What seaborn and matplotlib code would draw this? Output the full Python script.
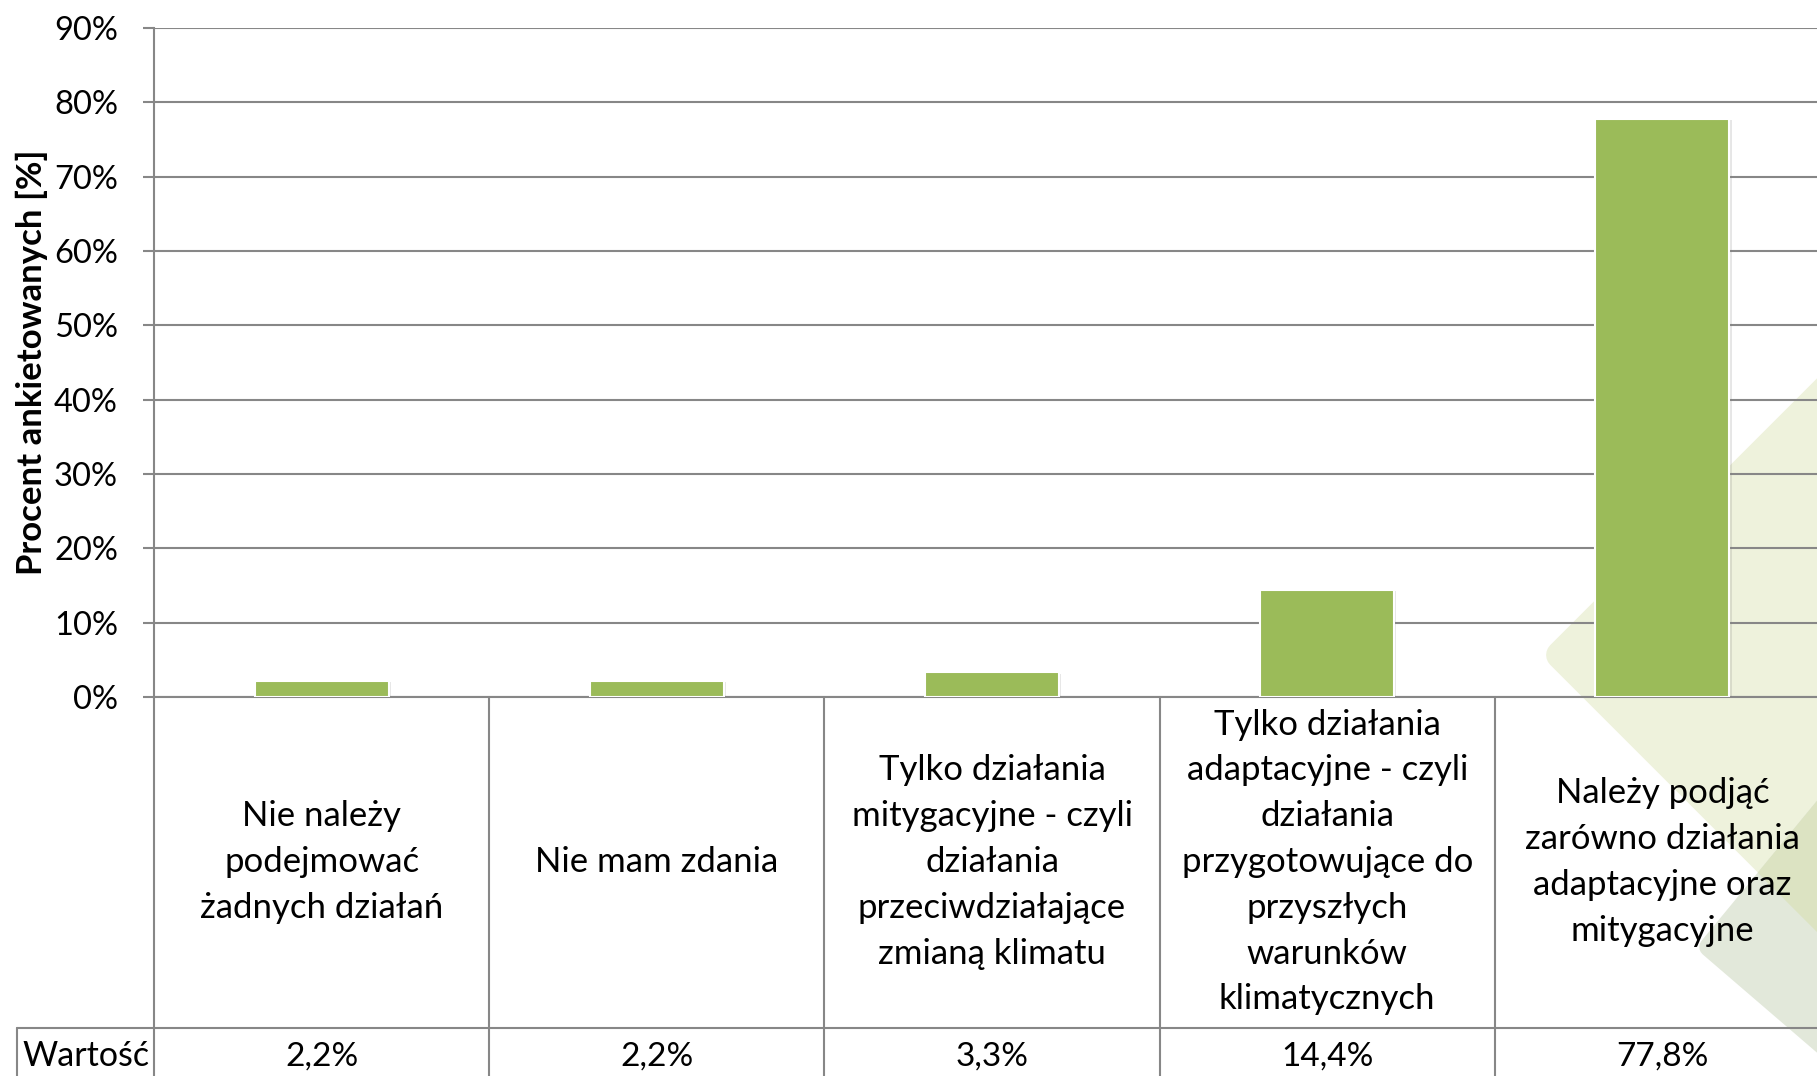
import matplotlib
matplotlib.use("Agg")
import matplotlib.pyplot as plt
import matplotlib.transforms as mtransforms
from matplotlib.patches import Polygon
import matplotlib.patheffects as pe
import seaborn as sns
import pandas as pd

# ---------------- data ----------------
categories = [
    "Nie należy\npodejmować\nżadnych działań",
    "Nie mam zdania",
    "Tylko działania\nmitygacyjne - czyli\ndziałania\nprzeciwdziałające\nzmianą klimatu",
    "Tylko działania\nadaptacyjne - czyli\ndziałania\nprzygotowujące do\nprzyszłych\nwarunków\nklimatycznych",
    "Należy podjąć\nzarówno działania\nadaptacyjne oraz\nmitygacyjne",
]
values = [2.2, 2.2, 3.3, 14.4, 77.8]
value_labels = ["2,2%", "2,2%", "3,3%", "14,4%", "77,8%"]
y_ticks = [0, 10, 20, 30, 40, 50, 60, 70, 80, 90]
y_tick_labels = ["0%", "10%", "20%", "30%", "40%", "50%", "60%", "70%", "80%", "90%"]
row_header = "Wartość"
y_label = "Procent ankietowanych [%]"

# ---------------- style ----------------
sns.set_theme(style="white")
plt.rcParams['font.family'] = ['Lato', 'DejaVu Sans']

W, H = 1817, 1076
GRID = "#878787"
BAR = "#9BBB59"

fig = plt.figure(figsize=(W / 100, H / 100), dpi=100)
fig.patch.set_facecolor("white")


def fx(x):
    return x / W


def fy(y):
    return 1 - y / H


def pts(seq):
    return [(fx(x), fy(y)) for x, y in seq]


# decorative background shapes (figure coordinates), drawn beneath the axes
cream = Polygon(pts([(1560, 655), (1930, 285), (1930, 1025)]), closed=True,
                transform=fig.transFigure, facecolor="#EEF2DC", edgecolor="#EEF2DC",
                lw=20, joinstyle="round", zorder=-3)
grey_tri = [(1709, 947), (1930, 679), (1930, 1137)]
grey = Polygon(pts(grey_tri), closed=True, transform=fig.transFigure,
               facecolor="#E2E8DA", edgecolor="#E2E8DA", lw=14, joinstyle="round",
               zorder=-2)
olive = Polygon(pts(grey_tri), closed=True, transform=fig.transFigure,
                facecolor="#DCE3C2", edgecolor="#DCE3C2", lw=14, joinstyle="round",
                zorder=-1)
clip = Polygon(pts([(1500, 615), (1930, 1045), (1930, 0), (1500, 0)]), closed=True,
               transform=fig.transFigure)
for p in (cream, grey, olive):
    fig.add_artist(p)
olive.set_clip_path(clip)

# ---------------- axes ----------------
ax = fig.add_axes([fx(154), fy(697), 1676 / W, (697 - 28) / H])
ax.set_zorder(1)
ax.patch.set_alpha(0)

df = pd.DataFrame({"cat": categories, "val": values})
sns.barplot(data=df, x="cat", y="val", color=BAR, saturation=1, width=0.4,
            edgecolor="white", linewidth=1.5, ax=ax, zorder=3)
for bar in ax.patches:
    bar.set_path_effects([pe.SimplePatchShadow(offset=(1.5, -1.0), alpha=0.18,
                                                shadow_rgbFace="#777777"),
                          pe.Normal()])

ax.set_xlim(-0.5, len(categories) - 0.5)
ax.set_ylim(0, 90)
ax.set_yticks(y_ticks)
ax.set_yticklabels(y_tick_labels)
ax.set_xticks([])
ax.set_xlabel("")
ax.set_ylabel("")
ax.set_axisbelow(True)
ax.yaxis.grid(True, color=GRID, lw=1.5)
ax.tick_params(axis="y", left=True, length=8, width=1.5, color=GRID, pad=18,
               labelsize=23.5, labelcolor="black")
for s in ("top", "right"):
    ax.spines[s].set_visible(False)
for s in ("left", "bottom"):
    ax.spines[s].set_color(GRID)
    ax.spines[s].set_linewidth(1.5)

fig.text(fx(32), fy(362), y_label, rotation=90, ha="center", va="center",
         fontsize=25, fontweight="bold", color="black")

# ---------------- data table below ----------------
tr = mtransforms.blended_transform_factory(ax.transData, fig.transFigure)
for b in [i - 0.5 for i in range(len(categories) + 1)]:
    ax.plot([b, b], [fy(697), 0], transform=tr, color=GRID, lw=1.5, clip_on=False)
fig.add_artist(plt.Line2D([fx(17), 1.0], [fy(1028), fy(1028)], color=GRID, lw=1.5))
fig.add_artist(plt.Line2D([fx(17), fx(17)], [fy(1028), 0], color=GRID, lw=1.5))

for i, (c, v) in enumerate(zip(categories, value_labels)):
    ax.text(i, fy(862), c, transform=tr, ha="center", va="center",
            multialignment="center", fontsize=25, linespacing=1.53, color="black")
    ax.text(i, fy(1066), v, transform=tr, ha="center", va="baseline",
            fontsize=24, color="black")
fig.text(fx(22), fy(1066), row_header, ha="left", va="baseline", fontsize=24.5,
         color="black")

fig.savefig("out.png", dpi=100)
